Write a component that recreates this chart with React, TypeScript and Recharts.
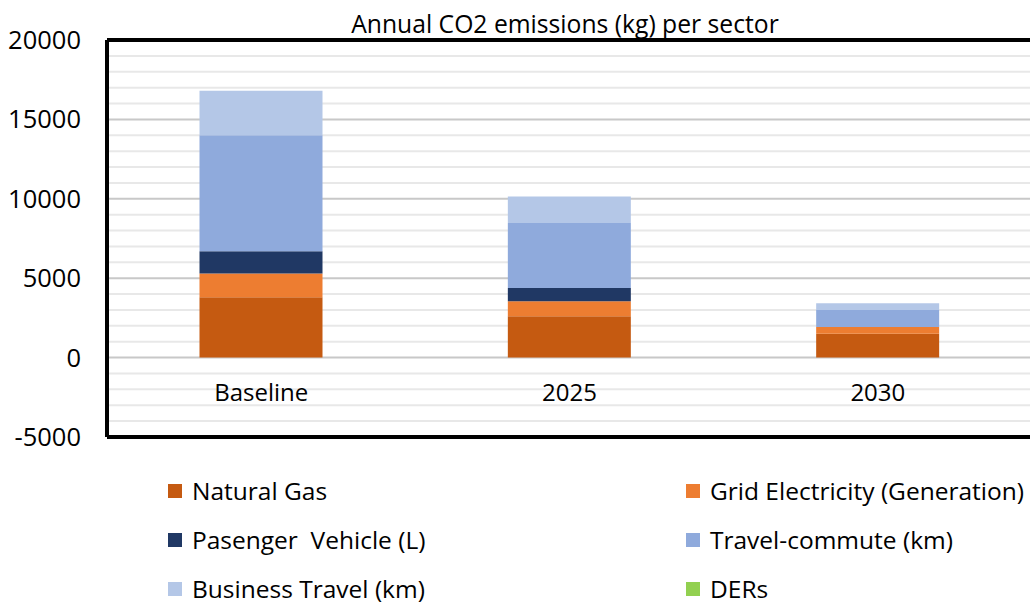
import React from 'react'
import { BarChart, Bar, XAxis, YAxis, CartesianGrid, ReferenceLine } from 'recharts'

const FONT = '"Open Sans", sans-serif'

// categories and stacked series (kg CO2)
const categories = ['Baseline', '2025', '2030']
const naturalGas = [3800, 2600, 1500]
const gridElectricity = [1500, 950, 430]
const passengerVehicle = [1400, 830, 0]
const travelCommute = [7300, 4090, 1070]
const businessTravel = [2800, 1670, 430]
const ders = [0, 0, 0]

// gridlines every 1000, labels only every 5000
const yTicks = [-5000, -4000, -3000, -2000, -1000, 0, 1000, 2000, 3000, 4000, 5000, 6000, 7000, 8000, 9000,
  10000, 11000, 12000, 13000, 14000, 15000, 16000, 17000, 18000, 19000, 20000]

const series = [
  { key: 'ng', name: 'Natural Gas', color: '#C55A11', values: naturalGas },
  { key: 'grid', name: 'Grid Electricity (Generation)', color: '#ED7D31', values: gridElectricity },
  { key: 'veh', name: 'Pasenger  Vehicle (L)', color: '#203864', values: passengerVehicle },
  { key: 'comm', name: 'Travel-commute (km)', color: '#8FAADC', values: travelCommute },
  { key: 'bus', name: 'Business Travel (km)', color: '#B4C7E7', values: businessTravel },
  { key: 'der', name: 'DERs', color: '#92D050', values: ders },
]

const data = categories.map((name, i) => {
  const row: any = { name }
  series.forEach(s => { row[s.key] = s.values[i] })
  return row
})

// category labels sit inside the plot, just under the zero line
const CategoryTick = (props: any) => (
  <text x={props.x} y={props.y - 36} textAnchor="middle" fontFamily={FONT} fontSize={24} fill="#000">
    {props.payload.value}
  </text>
)

const ValueTick = (props: any) => {
  if (props.payload.value % 5000 !== 0) return <g />
  return (
    <text x={props.x} y={props.y} dy="0.355em" textAnchor="end" fontFamily={FONT} fontSize={25.5} fill="#000">
      {props.payload.value}
    </text>
  )
}

const GridLine = (props: any) => {
  const major = yTicks[props.index] % 5000 === 0
  return <line x1={props.x1} x2={props.x2} y1={props.y1} y2={props.y2} stroke={major ? '#c8c8c8' : '#e8e8e8'} strokeWidth={2} />
}

export default function App() {
  return (
    <div style={{ position: 'absolute', left: 0, top: 0, width: 1030, height: 604, overflow: 'hidden', background: '#fff' }}>
      <div style={{ position: 'absolute', left: 565, top: 8, transform: 'translateX(-50%)', whiteSpace: 'nowrap', fontFamily: FONT, fontSize: 24.7, color: '#000', lineHeight: '32px' }}>
        Annual CO2 emissions (kg) per sector
      </div>
      <BarChart width={1040} height={604} data={data} margin={{ top: 40, right: 8, bottom: 166, left: 0 }} barCategoryGap="30%">
        <CartesianGrid vertical={false} horizontal={(p: any) => <GridLine key={p.key ?? p.index} {...p} />} />
        <XAxis dataKey="name" height={1} tickSize={0} tickMargin={0} tickLine={false} axisLine={false} tick={<CategoryTick />} />
        <YAxis domain={[-5000, 20000]} ticks={yTicks} interval={0} width={107} tickSize={0} tickMargin={26} tickLine={false}
          axisLine={{ stroke: '#000', strokeWidth: 4 }} tick={<ValueTick />} />
        {series.map(s => (
          <Bar key={s.key} dataKey={s.key} name={s.name} stackId="a" fill={s.color} isAnimationActive={false} />
        ))}
        <ReferenceLine y={20000} stroke="#000" strokeWidth={4} />
        <ReferenceLine y={-5000} stroke="#000" strokeWidth={4} />
      </BarChart>
      <div style={{ position: 'absolute', left: 168, top: 466, width: 900, display: 'grid', gridTemplateColumns: '518px 400px' }}>
        {series.map(s => (
          <div key={s.key} style={{ display: 'flex', alignItems: 'center', height: 49, fontFamily: FONT, fontSize: 24.5, color: '#000', whiteSpace: 'pre' }}>
            <span style={{ display: 'inline-block', width: 14, height: 14, background: s.color, marginRight: 10 }} />
            {s.name}
          </div>
        ))}
      </div>
    </div>
  )
}
